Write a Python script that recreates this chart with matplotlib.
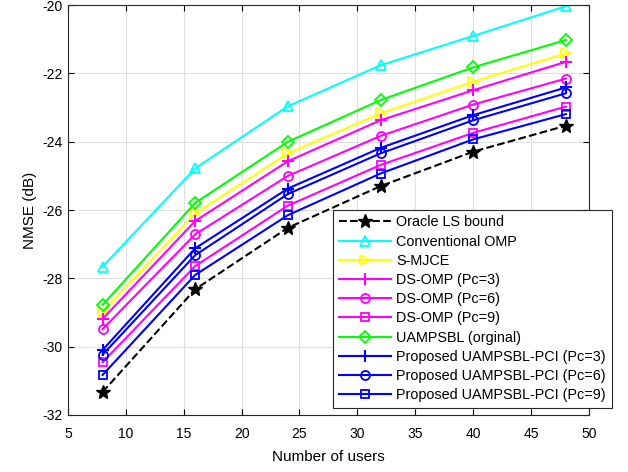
import matplotlib.pyplot as plt

plt.rcParams['font.family'] = ['Liberation Sans', 'DejaVu Sans']
plt.rcParams['axes.unicode_minus'] = False

users = [8, 16, 24, 32, 40, 48]

oracle_ls = [-31.33, -28.32, -26.52, -25.30, -24.29, -23.53]
conv_omp = [-27.66, -24.78, -22.96, -21.76, -20.90, -20.03]
s_mjce = [-28.98, -26.10, -24.34, -23.17, -22.24, -21.41]
ds_omp_3 = [-29.19, -26.32, -24.57, -23.37, -22.49, -21.66]
ds_omp_6 = [-29.49, -26.71, -25.00, -23.83, -22.91, -22.15]
ds_omp_9 = [-30.46, -27.64, -25.87, -24.68, -23.74, -22.97]
uampsbl = [-28.78, -25.79, -24.00, -22.78, -21.82, -21.02]
prop_3 = [-30.10, -27.12, -25.37, -24.18, -23.22, -22.41]
prop_6 = [-30.24, -27.32, -25.53, -24.34, -23.37, -22.58]
prop_9 = [-30.83, -27.90, -26.15, -24.93, -23.93, -23.19]

fig = plt.figure(figsize=(6.28, 4.72), dpi=100)
ax = fig.add_axes([0.108, 0.121, 0.830, 0.868])

lw = 1.5
mew = 1.3
cyan, yellow, magenta, green, blue = '#00ffff', '#ffff00', '#ff00ff', '#00ff00', '#0000ff'
ax.plot(users, oracle_ls, 'k--', marker='*', ms=10, lw=lw, label='Oracle LS bound')
ax.plot(users, conv_omp, color=cyan, marker='^', ms=7.5, mew=mew, mfc='none', lw=lw, label='Conventional OMP')
ax.plot(users, s_mjce, color=yellow, marker='>', ms=7.5, mew=mew, mfc='none', lw=lw, label='S-MJCE')
ax.plot(users, ds_omp_3, color=magenta, marker='+', ms=8, mew=1.5, lw=lw, label='DS-OMP (Pc=3)')
ax.plot(users, ds_omp_6, color=magenta, marker='o', ms=6.5, mew=mew, mfc='none', lw=lw, label='DS-OMP (Pc=6)')
ax.plot(users, ds_omp_9, color=magenta, marker='s', ms=6, mew=mew, mfc='none', lw=lw, label='DS-OMP (Pc=9)')
ax.plot(users, uampsbl, color=green, marker='D', ms=6, mew=mew, mfc='none', lw=lw, label='UAMPSBL (orginal)')
ax.plot(users, prop_3, color=blue, marker='+', ms=8, mew=1.5, lw=lw, label='Proposed UAMPSBL-PCI (Pc=3)')
ax.plot(users, prop_6, color=blue, marker='o', ms=6.5, mew=mew, mfc='none', lw=lw, label='Proposed UAMPSBL-PCI (Pc=6)')
ax.plot(users, prop_9, color=blue, marker='s', ms=6, mew=mew, mfc='none', lw=lw, label='Proposed UAMPSBL-PCI (Pc=9)')

ax.set_xlim(5, 50)
ax.set_ylim(-32, -20)
ax.set_xticks(range(5, 51, 5))
ax.set_yticks(range(-32, -19, 2))
ax.grid(True, color='#e0e0e0', lw=0.8)
ax.set_axisbelow(True)
ax.tick_params(direction='in', top=True, right=True, labelsize=10, length=4)
ax.tick_params(axis='x', pad=9)
for s in ax.spines.values():
    s.set_color('#262626')
    s.set_linewidth(0.8)

ax.set_xlabel('Number of users', fontsize=11, labelpad=6)
ax.set_ylabel('NMSE (dB)', fontsize=11)

leg = ax.legend(loc='lower left', bbox_to_anchor=(0.530, 0.1356), bbox_transform=fig.transFigure,
                fontsize=10.4, handlelength=3.6, labelspacing=0.36, borderpad=0.4,
                handletextpad=0.4, borderaxespad=0, fancybox=False, framealpha=1,
                edgecolor='#262626')
leg.get_frame().set_linewidth(0.8)

fig.savefig('out.png', dpi=100)
